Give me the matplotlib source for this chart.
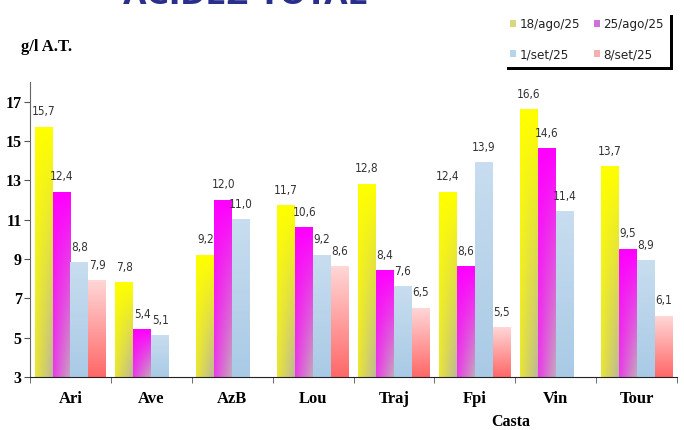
import numpy as np
import matplotlib.pyplot as plt
from matplotlib.patches import Patch
from matplotlib.colors import to_rgb

categories = ["Ari", "Ave", "AzB", "Lou", "Traj", "Fpi", "Vin", "Tour"]
dates = ["18/ago/25", "25/ago/25", "1/set/25", "8/set/25"]
ago18 = [15.7, 7.8, 9.2, 11.7, 12.8, 12.4, 16.6, 13.7]
ago25 = [12.4, 5.4, 12.0, 10.6, 8.4, 8.6, 14.6, 9.5]
set01 = [8.8, 5.1, 11.0, 9.2, 7.6, 13.9, 11.4, 8.9]
set08 = [7.9, None, None, 8.6, 6.5, 5.5, None, 6.1]
series = [ago18, ago25, set01, set08]

# gradient fills: (top colour, bottom colour, diagonal?)
fills = [("#ffff00", "#bdb89a", True),
         ("#ff00ff", "#c4a8bc", True),
         ("#c8ddef", "#a9cae6", False),
         ("#ffd6d6", "#ff6868", False)]
legend_cols = ["#d8d880", "#d070d8", "#b8d4ec", "#f4b0b0"]

serif = "Liberation Serif"
ymin = 3


def gradient(c0, c1, diag):
    h = np.linspace(0, 1, 24)[None, :]
    v = np.linspace(0, 1, 64)[:, None]
    t = v * (0.35 + 0.65 * h) if diag else v * np.ones_like(h)
    c0, c1 = np.array(to_rgb(c0)), np.array(to_rgb(c1))
    return c0 * (1 - t[..., None]) + c1 * t[..., None]


fig = plt.figure(figsize=(6.84, 4.30), dpi=100)
ax = fig.add_axes([0.0439, 0.1233, 0.9459, 0.686])

x = np.arange(len(categories))
w = 0.222
for i, (vals, (c0, c1, diag)) in enumerate(zip(series, fills)):
    img = gradient(c0, c1, diag)
    for j, v in enumerate(vals):
        if v is None:
            continue
        xc = x[j] + (i - 1.5) * w
        bar = ax.bar(xc, v - ymin, w, bottom=ymin, facecolor="none",
                     linewidth=0, zorder=2)[0]
        ax.imshow(img, extent=(xc - w / 2, xc + w / 2, ymin, v),
                  origin="upper", aspect="auto", interpolation="bilinear",
                  clip_path=bar, zorder=1)
        ax.text(xc, v + 0.45, f"{v:.1f}".replace(".", ","), ha="center",
                va="bottom", fontsize=8.5, color="#333333",
                family="DejaVu Sans", stretch="condensed")

ax.set_xlim(-0.5, len(categories) - 0.5)
ax.set_ylim(ymin, 18)
ax.set_yticks(range(3, 18, 2))
ax.set_yticklabels([str(t) for t in range(3, 18, 2)], family=serif,
                   fontweight="bold", fontsize=11.5)
ax.set_xticks(x)
ax.set_xticklabels(categories, family=serif, fontweight="bold", fontsize=12)
ax.set_xticks(np.arange(-0.5, len(categories)), minor=True)
ax.tick_params(axis="x", which="major", length=0, pad=10)
ax.tick_params(axis="x", which="minor", length=4, color="#555555")
ax.tick_params(axis="y", length=4, color="#555555", pad=2)
for s in ["top", "right"]:
    ax.spines[s].set_visible(False)
ax.spines["left"].set_color("#666666")
ax.spines["bottom"].set_color("#222222")

fig.text(0.03, 0.882, "g/l A.T.", family=serif, fontweight="bold", fontsize=12)
fig.text(0.747, 0.01, "Casta", family=serif, fontweight="bold", fontsize=11.5,
         ha="center")
fig.text(0.358, 1 - 4 / 430, "ACIDEZ TOTAL", family="DejaVu Sans",
         fontweight="bold", fontsize=22, color="#2b2f8c", ha="center",
         va="baseline")

# matplotlib fills legend columns first, so reorder to get rows 18/ago 25/ago
order = [0, 2, 1, 3]
handles = [Patch(facecolor=legend_cols[k], edgecolor="none") for k in order]
leg = fig.legend(handles, [dates[k] for k in order], ncol=2,
                 loc="upper right", bbox_to_anchor=(670 / 684, 1 - 12 / 430),
                 borderaxespad=0, frameon=True, fancybox=False,
                 shadow={"color": "black", "alpha": 1},
                 handlelength=0.45, handleheight=0.45, handletextpad=0.3,
                 columnspacing=1.0, labelspacing=1.3, borderpad=0.45,
                 prop={"family": "DejaVu Sans", "size": 9.5,
                       "stretch": "condensed"})
leg.get_frame().set_edgecolor("white")
leg.get_frame().set_linewidth(0)
for t in leg.get_texts():
    t.set_color("#222222")

fig.savefig("out.png", dpi=100)
